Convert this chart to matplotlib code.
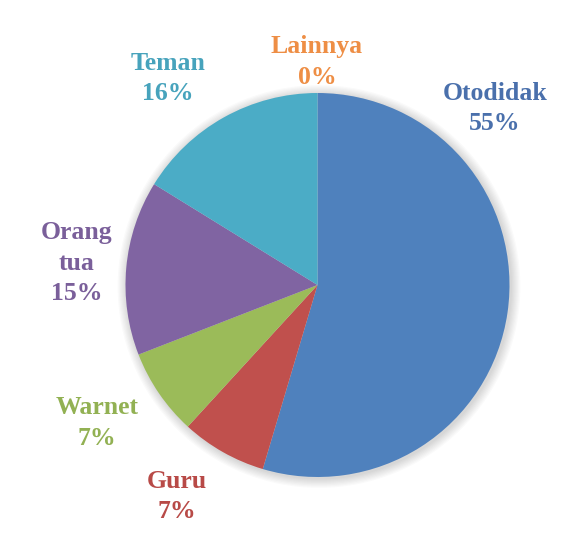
import matplotlib
matplotlib.use("Agg")
import matplotlib.pyplot as plt
from matplotlib.patches import Circle

# Data (percent shares, clockwise from 12 o'clock)
categories = ["Otodidak", "Guru", "Warnet", "Orang tua", "Teman", "Lainnya"]
shares = [54.6, 7.2, 7.3, 14.7, 16.2, 0.0]
colors = ["#4F81BD", "#C0504D", "#9BBB59", "#8064A2", "#4BACC6", "#F79646"]
text_colors = ["#4A70AC", "#B84A47", "#92B153", "#7A5F9A", "#47A3BC", "#EE8E45"]
label_lines = ["Otodidak", "Guru", "Warnet", "Orang\ntua", "Teman", "Lainnya"]

W, H = 587, 550
CX, CY, R = 317.5, H - 285, 192

# label anchor (centre of first line) in pixel coords, y from top
label_pos = {
    "Otodidak": (495, 93),
    "Guru": (177, 481),
    "Warnet": (97, 408),
    "Orang tua": (77, 233),
    "Teman": (168, 63),
    "Lainnya": (317, 47),
}
LINE = 30.5

fig = plt.figure(figsize=(W / 100, H / 100), dpi=100)
ax = fig.add_axes([0, 0, 1, 1])

# soft shadow around the pie
for i in range(8):
    ax.add_patch(Circle((CX + 1.5, CY - 1.5), R + 1 + i * 1.2,
                        color="black", alpha=0.018, lw=0, zorder=0))

ax.pie(shares, colors=colors, startangle=90, counterclock=False,
       center=(CX, CY), radius=R, frame=True,
       wedgeprops=dict(linewidth=0))
ax.set_xlim(0, W)
ax.set_ylim(0, H)
ax.set_aspect("equal")
ax.axis("off")

for cat, txt, val, col in zip(categories, label_lines, shares, text_colors):
    x, y = label_pos[cat]
    lines = txt.split("\n") + [f"{val:.0f}%"]
    for k, ln in enumerate(lines):
        ax.text(x, H - (y + k * LINE), ln, ha="center", va="center",
                color=col, fontsize=18.5, fontweight="bold",
                family="Liberation Serif")

fig.savefig("out.png", dpi=100)
